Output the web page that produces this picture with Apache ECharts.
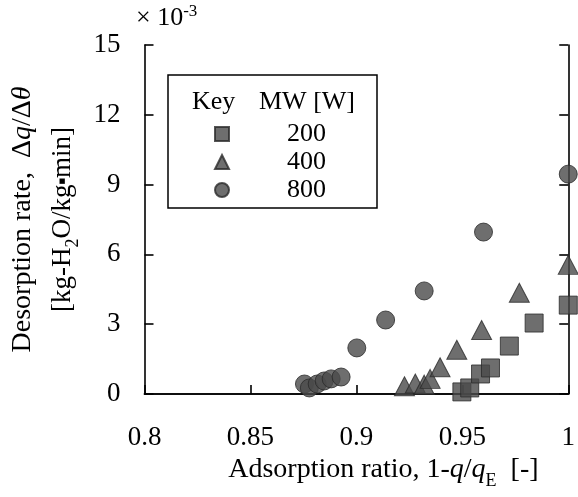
<!DOCTYPE html>
<html>
<head>
<meta charset="utf-8">
<script src="https://cdn.jsdelivr.net/npm/echarts@6/dist/echarts.min.js"></script>
<style>
html,body{margin:0;padding:0;background:#fff;}
#c{width:578px;height:497px;}
</style>
</head>
<body>
<div id="c"></div>
<script>
// Data (y values in units of 10^-3)
const seriesNames = ['200', '400', '800'];
const sqX = [0.9498, 0.9535, 0.9586, 0.9633, 0.9722, 0.9839, 1.0];
const sqY = [0.09, 0.26, 0.86, 1.12, 2.06, 3.05, 3.82];
const trX = [0.9227, 0.9278, 0.9320, 0.9348, 0.9395, 0.9474, 0.9591, 0.9769, 1.0];
const trY = [0.33, 0.45, 0.40, 0.65, 1.15, 1.90, 2.75, 4.35, 5.55];
const ciX = [0.8755, 0.8778, 0.8815, 0.8848, 0.8881, 0.8928, 0.9002, 0.9138, 0.932, 0.960, 1.0];
const ciY = [0.43, 0.26, 0.43, 0.56, 0.65, 0.73, 1.98, 3.18, 4.43, 6.96, 9.45];
const xTicks = [0.8, 0.85, 0.9, 0.95, 1];
const yTicks = [0, 3, 6, 9, 12, 15];

const F = 'Liberation Serif';
const FS = 26;
const TS = 27;
const NS = 28;
const pair = (xs, ys) => xs.map((x, i) => [x, ys[i]]);
const mark = {color: '#4a4a4a', borderColor: '#2a2a2a', borderWidth: 1};
const nameRich = {
  a: {fontFamily: F, fontSize: NS, color: '#000', lineHeight: 40},
  i: {fontFamily: F, fontSize: NS, color: '#000', fontStyle: 'italic', lineHeight: 40},
  b: {fontFamily: F, fontSize: 27, color: '#000', lineHeight: 40},
  s: {fontFamily: F, fontSize: 18, color: '#000', lineHeight: 33, verticalAlign: 'bottom'},
  d: {fontFamily: 'DejaVu Sans', fontSize: 7, color: '#000', lineHeight: 40}
};

const chart = echarts.init(document.getElementById('c'), null, {renderer: 'canvas'});
const axLine = {show: true, lineStyle: {color: '#000', width: 1.6}};
const tickIn = {show: true, inside: true, length: 9, lineStyle: {color: '#000', width: 1.6}};

chart.setOption({
  animation: false,
  backgroundColor: '#fff',
  grid: {left: 144.5, right: 5.5, top: 45, bottom: 103},
  xAxis: [{
    type: 'value', min: xTicks[0], max: xTicks[xTicks.length - 1], interval: 0.05,
    position: 'bottom',
    axisLine: axLine, axisTick: tickIn, splitLine: {show: false},
    axisLabel: {margin: 30, fontFamily: F, fontSize: TS, color: '#000',
      formatter: v => String(+(+v).toFixed(2))},
    name: '{a|Adsorption ratio, 1-}{i|q}{a|/}{i|q}{s|E}{a|  [-]}',
    nameLocation: 'middle', nameGap: 45,
    nameTextStyle: {rich: nameRich, padding: [0, 0, 0, 54]}
  }, {
    type: 'value', min: 0.8, max: 1, position: 'top',
    axisLine: axLine, axisTick: {show: false}, axisLabel: {show: false}, splitLine: {show: false}
  }],
  yAxis: [{
    type: 'value', min: yTicks[0], max: yTicks[yTicks.length - 1], interval: 3,
    position: 'left',
    axisLine: axLine, axisTick: tickIn, splitLine: {show: false},
    axisLabel: {margin: 24, fontFamily: F, fontSize: TS, color: '#000'},
    name: '{a|Desorption rate,  Δ}{i|q}{a|/Δ}{i|θ}\n{b|[kg-H}{s|2}{b|O/kg}{d|■}{b|min]}',
    nameLocation: 'middle', nameGap: 54, nameRotate: 90,
    nameTextStyle: {rich: nameRich, align: 'center'}
  }, {
    type: 'value', min: 0, max: 15, interval: 3, position: 'right',
    axisLine: axLine, axisTick: tickIn, axisLabel: {show: false}, splitLine: {show: false}
  }],
  legend: {
    orient: 'vertical', left: 209, top: 116, itemWidth: 14, itemHeight: 14, itemGap: 2,
    selectedMode: false,
    textStyle: {fontFamily: F, fontSize: FS, lineHeight: 26, color: '#000', padding: [0, 0, 0, 53]},
    data: seriesNames
  },
  graphic: [
    {type: 'rect', shape: {x: 168, y: 75, width: 209, height: 133},
      style: {fill: 'none', stroke: '#000', lineWidth: 1.5}},
    {type: 'text', x: 192, y: 102,
      style: {text: 'Key', font: FS + 'px "Liberation Serif"', fill: '#000', verticalAlign: 'middle'}},
    {type: 'text', x: 259, y: 102,
      style: {text: 'MW [W]', font: FS + 'px "Liberation Serif"', fill: '#000', verticalAlign: 'middle'}},
    {type: 'text', x: 136, y: 18,
      style: {text: '{t|× 10}{p|-3}', verticalAlign: 'middle',
        rich: {t: {fontFamily: F, fontSize: FS, color: '#000', lineHeight: 30},
               p: {fontFamily: F, fontSize: 17, color: '#000', lineHeight: 18, verticalAlign: 'top'}}}}
  ],
  series: [
    {name: seriesNames[0], type: 'scatter', symbol: 'rect', symbolSize: 18, clip: false,
      itemStyle: mark, data: pair(sqX, sqY), z: 3},
    {name: seriesNames[1], type: 'scatter', symbol: 'triangle', symbolSize: [20, 19], clip: false,
      itemStyle: mark, data: pair(trX, trY), z: 2},
    {name: seriesNames[2], type: 'scatter', symbol: 'circle', symbolSize: 18, clip: false,
      itemStyle: mark, data: pair(ciX, ciY), z: 1}
  ]
});
</script>
</body>
</html>
